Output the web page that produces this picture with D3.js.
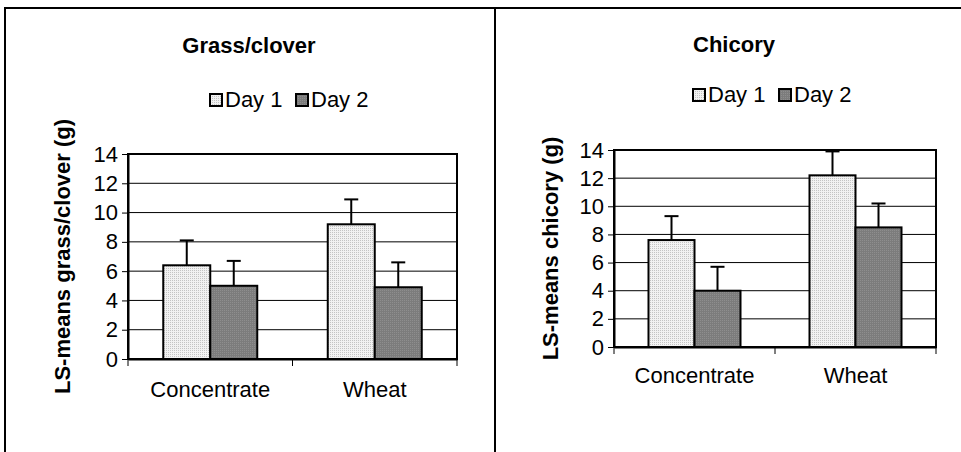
<!DOCTYPE html>
<html lang="en">
<head>
    <meta charset="utf-8">
    <title>LS-means grass/clover and chicory</title>
    <style>
        body{
            margin: 0;
            background: #fff;
        }
        text{
            font-family: Arial, "Liberation Sans", sans-serif;
        }
    </style>
</head>
<body>
    <script src="https://cdnjs.cloudflare.com/ajax/libs/d3/7.9.0/d3.min.js"></script>
    <script>

    // data
    const categories = ["Concentrate", "Wheat"];
    const seriesNames = ["Day 1", "Day 2"];
    const yTicks = [0, 2, 4, 6, 8, 10, 12, 14];

    const grassDay1 = [6.4, 9.2];
    const grassDay2 = [5.0, 4.9];
    const grassErrDay1 = [1.7, 1.7];
    const grassErrDay2 = [1.7, 1.7];

    const chicoryDay1 = [7.6, 12.2];
    const chicoryDay2 = [4.0, 8.5];
    const chicoryErrDay1 = [1.7, 1.7];
    const chicoryErrDay2 = [1.7, 1.7];

    const width = 961;
    const height = 452;
    const fontSize = "22px";

    const svg = d3.select("body")
        .append("svg")
        .attr("width", width)
        .attr("height", height);

    // dotted fills like the old excel bars
    const defs = svg.append("defs");
    const p1 = defs.append("pattern").attr("id", "fill0")
        .attr("width", 2).attr("height", 2).attr("patternUnits", "userSpaceOnUse");
    p1.append("rect").attr("width", 2).attr("height", 2).attr("fill", "#f2f2f2");
    p1.append("rect").attr("width", 1).attr("height", 1).attr("fill", "#c4c4c4");
    const p2 = defs.append("pattern").attr("id", "fill1")
        .attr("width", 2).attr("height", 2).attr("patternUnits", "userSpaceOnUse");
    p2.append("rect").attr("width", 2).attr("height", 2).attr("fill", "#7c7c7c");
    p2.append("rect").attr("width", 1).attr("height", 1).attr("fill", "#8e8e8e");

    // frame of the page
    svg.append("line").attr("x1", 5).attr("x2", width).attr("y1", 8).attr("y2", 8)
        .attr("stroke", "#000").attr("stroke-width", 2);
    svg.append("line").attr("x1", 5).attr("x2", 5).attr("y1", 7).attr("y2", height)
        .attr("stroke", "#000").attr("stroke-width", 2);
    svg.append("line").attr("x1", 495).attr("x2", 495).attr("y1", 7).attr("y2", height)
        .attr("stroke", "#000").attr("stroke-width", 2);

    const panels = [
        {
            title: "Grass/clover", yLabel: "LS-means grass/clover (g)",
            values: [grassDay1, grassDay2], errors: [grassErrDay1, grassErrDay2],
            x0: 128, x1: 457, y0: 359, y1: 154,
            titleX: 249, titleY: 53, legendX: 210, legendY: 94,
            yLabelX: 70, catPad: 22
        },
        {
            title: "Chicory", yLabel: "LS-means chicory (g)",
            values: [chicoryDay1, chicoryDay2], errors: [chicoryErrDay1, chicoryErrDay2],
            x0: 614, x1: 936, y0: 347, y1: 150,
            titleX: 734, titleY: 52, legendX: 693, legendY: 89,
            yLabelX: 558, catPad: 20
        }
    ];

    panels.forEach(function(p){

        const g = svg.append("g");

        const scaleX = d3.scaleBand()
            .domain(categories)
            .range([p.x0, p.x1]);

        const scaleSub = d3.scaleBand()
            .domain(seriesNames)
            .range([0, scaleX.bandwidth()])
            .paddingOuter(0.75);

        const scaleY = d3.scaleLinear()
            .domain([0, 14])
            .range([p.y0, p.y1]);

        // gridlines
        g.selectAll(".grid")
            .data(yTicks.slice(1, -1))
            .enter()
            .append("line")
            .attr("x1", p.x0).attr("x2", p.x1)
            .attr("y1", d => scaleY(d)).attr("y2", d => scaleY(d))
            .attr("stroke", "#000").attr("stroke-width", 1);

        // frame
        g.append("rect")
            .attr("x", p.x0).attr("y", p.y1)
            .attr("width", p.x1 - p.x0).attr("height", p.y0 - p.y1)
            .attr("fill", "none").attr("stroke", "#000").attr("stroke-width", 2);

        // bars
        const rows = [];
        categories.forEach((c, i) => {
            seriesNames.forEach((s, j) => {
                rows.push({cat: c, series: s, j: j, value: p.values[j][i], err: p.errors[j][i]});
            });
        });

        g.selectAll(".bar")
            .data(rows)
            .enter()
            .append("rect")
            .attr("x", d => scaleX(d.cat) + scaleSub(d.series))
            .attr("y", d => scaleY(d.value))
            .attr("width", scaleSub.bandwidth())
            .attr("height", d => scaleY(0) - scaleY(d.value))
            .attr("fill", d => "url(#fill" + d.j + ")")
            .attr("stroke", "#000")
            .attr("stroke-width", 2);

        // error bars, upper side only
        const cx = d => scaleX(d.cat) + scaleSub(d.series) + scaleSub.bandwidth() / 2;
        g.selectAll(".err")
            .data(rows)
            .enter()
            .append("line")
            .attr("x1", cx).attr("x2", cx)
            .attr("y1", d => scaleY(d.value))
            .attr("y2", d => scaleY(d.value + d.err))
            .attr("stroke", "#000").attr("stroke-width", 2);
        g.selectAll(".cap")
            .data(rows)
            .enter()
            .append("line")
            .attr("x1", d => cx(d) - 7).attr("x2", d => cx(d) + 7)
            .attr("y1", d => scaleY(d.value + d.err))
            .attr("y2", d => scaleY(d.value + d.err))
            .attr("stroke", "#000").attr("stroke-width", 2);

        // y axis
        const yAxis = g.append("g")
            .attr("transform", `translate(${p.x0},0)`)
            .call(d3.axisLeft(scaleY).tickValues(yTicks).tickSize(6).tickPadding(4).tickSizeOuter(0));
        yAxis.select(".domain").attr("stroke-width", 2);
        yAxis.selectAll(".tick line").attr("stroke-width", 1);
        yAxis.selectAll("text")
            .attr("fill", "#000")
            .style("font-size", fontSize)
            .style("font-family", "Arial, 'Liberation Sans', sans-serif");

        // x axis
        const xAxis = g.append("g")
            .attr("transform", `translate(0,${p.y0})`)
            .call(d3.axisBottom(scaleX).tickSize(0).tickPadding(p.catPad).tickSizeOuter(0));
        xAxis.select(".domain").attr("stroke-width", 2);
        xAxis.selectAll("text")
            .attr("fill", "#000")
            .style("font-size", fontSize)
            .style("font-family", "Arial, 'Liberation Sans', sans-serif");

        // category separator ticks
        const bounds = categories.map(c => scaleX(c)).concat([p.x1]);
        g.selectAll(".ctick")
            .data(bounds)
            .enter()
            .append("line")
            .attr("x1", d => d).attr("x2", d => d)
            .attr("y1", p.y0).attr("y2", p.y0 + 7)
            .attr("stroke", "#000").attr("stroke-width", 1);

        // title
        g.append("text")
            .attr("x", p.titleX).attr("y", p.titleY)
            .attr("text-anchor", "middle")
            .style("font-size", fontSize)
            .style("font-weight", "bold")
            .text(p.title);

        // y label
        g.append("text")
            .attr("transform", `translate(${p.yLabelX},${(p.y0 + p.y1) / 2}) rotate(-90)`)
            .attr("text-anchor", "middle")
            .style("font-size", fontSize)
            .style("font-weight", "bold")
            .text(p.yLabel);

        // legend
        const legend = g.append("g")
            .attr("transform", `translate(${p.legendX},${p.legendY})`);
        const item = legend.selectAll(".item")
            .data(seriesNames)
            .enter()
            .append("g")
            .attr("transform", (d, i) => `translate(${i * 86},0)`);
        item.append("rect")
            .attr("width", 12).attr("height", 12)
            .attr("fill", (d, i) => "url(#fill" + i + ")")
            .attr("stroke", "#000").attr("stroke-width", 2);
        item.append("text")
            .attr("x", 15).attr("y", 12.5)
            .style("font-size", fontSize)
            .text(d => d);
    });

    </script>
</body>
</html>
